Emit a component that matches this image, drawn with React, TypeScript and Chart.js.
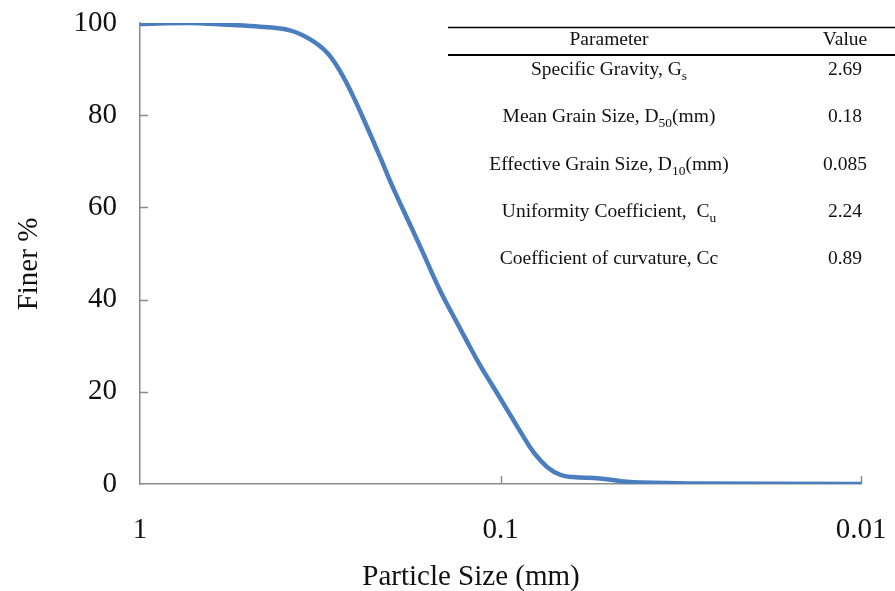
import React, { useEffect, useRef } from "react";
import { Chart, registerables } from "chart.js";

Chart.register(...registerables);

// ---- data ----
const PARTICLE_SIZE_MM = [1.0, 0.736, 0.57, 0.465, 0.384, 0.338, 0.303, 0.279, 0.257, 0.235, 0.216, 0.199, 0.182, 0.167, 0.147, 0.135, 0.124, 0.114, 0.105, 0.096, 0.088, 0.081, 0.074, 0.068, 0.063, 0.053, 0.0446, 0.041, 0.03, 0.01];
const FINER_PCT = [99.8, 100, 99.6, 99.2, 98.4, 96.5, 93.6, 89.6, 84.3, 77.6, 71.0, 64.4, 57.8, 51.5, 41.9, 36.4, 31.0, 25.8, 21.2, 16.2, 11.3, 6.9, 3.6, 1.95, 1.5, 1.2, 0.5, 0.3, 0.1, 0];

const X_TICKS = [1, 0.1, 0.01];
const Y_TICKS = [0, 20, 40, 60, 80, 100];

const X_TITLE = "Particle Size (mm)";
const Y_TITLE = "Finer %";

const TABLE_HEADERS = ["Parameter", "Value"];
const PARAM_NAMES = ["Specific Gravity, G", "Mean Grain Size, D", "Effective Grain Size, D", "Uniformity Coefficient,  C", "Coefficient of curvature, Cc"];
const PARAM_SUBS = ["s", "50", "10", "u", ""];
const PARAM_SUFFIX = ["", "(mm)", "(mm)", "", ""];
const PARAM_VALUES = ["2.69", "0.18", "0.085", "2.24", "0.89"];

const SERIF = '"Liberation Serif", "Times New Roman", serif';
const AXIS_COLOR = "#8a8a8a";
const LINE_COLOR = "#4A7EBF";
const TEXT_COLOR = "#111111";

const inwardTicks = {
  id: "inwardTicks",
  beforeDatasetsDraw(chart: any) {
    const { ctx, chartArea, scales } = chart;
    const x = scales.x;
    const y = scales.y;
    ctx.save();
    ctx.strokeStyle = AXIS_COLOR;
    ctx.lineWidth = 1.5;
    ctx.beginPath();
    for (const v of Y_TICKS) {
      if (v <= 0 || v >= 100) continue;
      const py = Math.round(y.getPixelForValue(v)) + 0.5;
      ctx.moveTo(chartArea.left, py);
      ctx.lineTo(chartArea.left + 8, py);
    }
    for (const v of X_TICKS) {
      if (v >= 1) continue;
      const px = Math.round(x.getPixelForValue(v)) + 0.5;
      ctx.moveTo(px, chartArea.bottom);
      ctx.lineTo(px, chartArea.bottom - 8);
    }
    ctx.stroke();
    ctx.restore();
  },
};

const titlesAndTable = {
  id: "titlesAndTable",
  afterDraw(chart: any) {
    const { ctx } = chart;
    ctx.save();
    ctx.fillStyle = TEXT_COLOR;
    ctx.textBaseline = "middle";
    ctx.textAlign = "center";

    // axis titles
    ctx.font = `29px ${SERIF}`;
    ctx.fillText(X_TITLE, 471, 577);
    ctx.save();
    ctx.translate(29, 264);
    ctx.rotate(-Math.PI / 2);
    ctx.fillText(Y_TITLE, 0, 0);
    ctx.restore();

    // table rules
    ctx.strokeStyle = "#000";
    ctx.lineWidth = 1.3;
    ctx.beginPath();
    ctx.moveTo(448, 27.5);
    ctx.lineTo(895, 27.5);
    ctx.stroke();
    ctx.lineWidth = 2;
    ctx.beginPath();
    ctx.moveTo(448, 55);
    ctx.lineTo(895, 55);
    ctx.stroke();

    const colParam = 609;
    const colValue = 845;
    const mainFont = `19.5px ${SERIF}`;
    const subFont = `13.5px ${SERIF}`;

    ctx.font = mainFont;
    ctx.textAlign = "center";
    ctx.fillText(TABLE_HEADERS[0], colParam, 40);
    ctx.fillText(TABLE_HEADERS[1], colValue, 40);

    const rowY = [70, 117, 165, 212, 259];
    ctx.textAlign = "left";
    for (let i = 0; i < PARAM_NAMES.length; i++) {
      const yy = rowY[i];
      ctx.font = mainFont;
      const w1 = ctx.measureText(PARAM_NAMES[i]).width;
      const w3 = ctx.measureText(PARAM_SUFFIX[i]).width;
      ctx.font = subFont;
      const w2 = PARAM_SUBS[i] ? ctx.measureText(PARAM_SUBS[i]).width : 0;
      let xx = colParam - (w1 + w2 + w3) / 2;
      ctx.font = mainFont;
      ctx.fillText(PARAM_NAMES[i], xx, yy);
      xx += w1;
      if (PARAM_SUBS[i]) {
        ctx.font = subFont;
        ctx.fillText(PARAM_SUBS[i], xx, yy + 6);
        xx += w2;
      }
      ctx.font = mainFont;
      if (PARAM_SUFFIX[i]) ctx.fillText(PARAM_SUFFIX[i], xx, yy);
      ctx.textAlign = "center";
      ctx.fillText(PARAM_VALUES[i], colValue, yy);
      ctx.textAlign = "left";
    }
    ctx.restore();
  },
};

export default function App() {
  const canvasRef = useRef<HTMLCanvasElement | null>(null);

  useEffect(() => {
    if (!canvasRef.current) return;
    const zeroPad = (s: any) => {
      s.paddingTop = 0;
      s.paddingBottom = 0;
      s.paddingLeft = 0;
      s.paddingRight = 0;
    };
    const chart = new Chart(canvasRef.current, {
      type: "line",
      data: {
        datasets: [
          {
            data: PARTICLE_SIZE_MM.map((d, i) => ({ x: d, y: FINER_PCT[i] })),
            borderColor: LINE_COLOR,
            borderWidth: 4.5,
            pointRadius: 0,
            fill: false,
            tension: 0.4,
            borderCapStyle: "round",
            borderJoinStyle: "round",
          },
        ],
      },
      options: {
        animation: false,
        responsive: true,
        maintainAspectRatio: false,
        layout: { padding: { top: 23, right: 34, left: 0, bottom: 0 } },
        plugins: { legend: { display: false }, tooltip: { enabled: false } },
        scales: {
          x: {
            type: "logarithmic",
            reverse: true,
            min: 0.01,
            max: 1,
            afterBuildTicks: (s: any) => {
              s.ticks = X_TICKS.map((v) => ({ value: v }));
            },
            afterFit: (s: any) => {
              s.height = 107;
              zeroPad(s);
            },
            grid: { display: true, drawOnChartArea: false, drawTicks: false, color: "rgba(0,0,0,0)" },
            border: { display: true, color: AXIS_COLOR, width: 1.5 },
            ticks: {
              padding: 29,
              autoSkip: false,
              maxRotation: 0,
              color: TEXT_COLOR,
              font: { family: SERIF, size: 29 },
              callback: (v: any) => String(v),
            },
          },
          y: {
            type: "linear",
            min: 0,
            max: 100,
            afterBuildTicks: (s: any) => {
              s.ticks = Y_TICKS.map((v) => ({ value: v }));
            },
            afterFit: (s: any) => {
              s.width = 140;
              zeroPad(s);
            },
            grid: { display: true, drawOnChartArea: false, drawTicks: false, color: "rgba(0,0,0,0)" },
            border: { display: true, color: AXIS_COLOR, width: 1.5 },
            ticks: {
              padding: 23,
              color: TEXT_COLOR,
              font: { family: SERIF, size: 29 },
              callback: (v: any) => String(v),
            },
          },
        },
      },
      plugins: [inwardTicks, titlesAndTable],
    } as any);
    return () => chart.destroy();
  }, []);

  return (
    <div style={{ position: "absolute", left: 0, top: 0, width: 895, height: 591, background: "#fff" }}>
      <canvas ref={canvasRef} />
    </div>
  );
}
